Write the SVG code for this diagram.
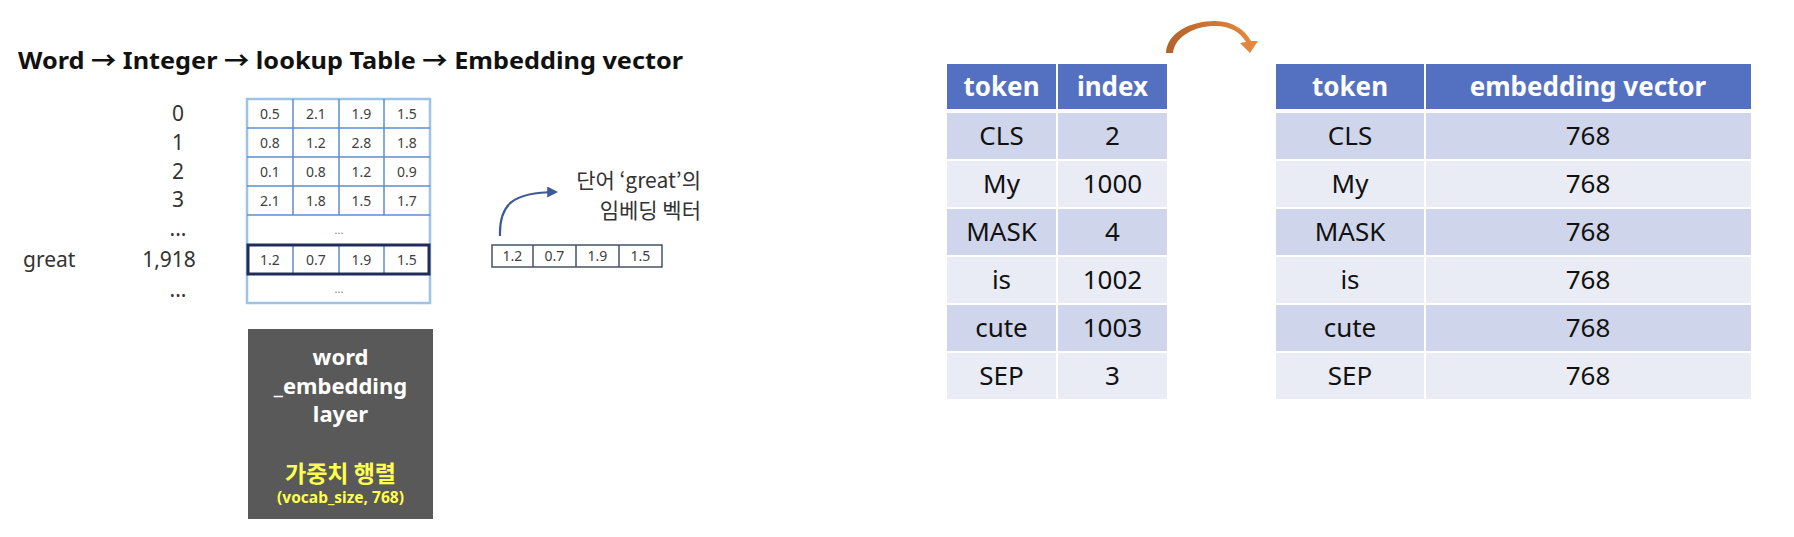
<svg xmlns="http://www.w3.org/2000/svg" width="1794" height="537" viewBox="0 0 1794 537">
<style>
  .t { font-family: "Noto Sans", "Open Sans", "Noto Sans CJK KR", sans-serif; }
  .kr { font-family: "Noto Sans CJK KR", "Noto Sans", sans-serif; }
  .cell { font-size: 14px; fill: #404040; text-anchor: middle; }
  .idx { font-size: 21px; fill: #333; text-anchor: middle; }
  .hdr { fill: #5470C1; }
  .b1 { fill: #CFD5EA; }
  .b2 { fill: #E9EBF5; }
  .ht { font-size: 26px; font-weight: bold; fill: #fff; text-anchor: middle; }
  .bt { font-size: 26px; fill: #111; text-anchor: middle; }
  .grid { stroke: #5B8FD0; stroke-width: 1.5; fill: none; }
  .wl { font-size: 22px; font-weight: bold; fill: #fff; text-anchor: middle; }
  .yl { font-weight: bold; fill: #FFFF4D; text-anchor: middle; }
</style>
<defs>
  <marker id="ah" viewBox="0 0 10 10" refX="8" refY="5" markerWidth="5" markerHeight="5" orient="auto">
    <path d="M0,0 L10,5 L0,10 Z" fill="#3E5A96"/>
  </marker>
  <linearGradient id="og" x1="0" y1="0" x2="1" y2="0">
    <stop offset="0" stop-color="#B0622C"/>
    <stop offset="1" stop-color="#E98B3F"/>
  </linearGradient>
</defs>
<rect width="1794" height="537" fill="#fff"/>

<g id="title">
  <text class="t" x="18" y="69" font-size="24" font-weight="bold" fill="#111" textLength="665" lengthAdjust="spacingAndGlyphs">Word → Integer → lookup Table → Embedding vector</text>
</g>

<g id="indices" class="t">
  <text class="idx" x="178" y="121">0</text>
  <text class="idx" x="178" y="150">1</text>
  <text class="idx" x="178" y="179">2</text>
  <text class="idx" x="178" y="207">3</text>
  <text class="idx" x="178" y="236" font-size="12" fill="#777">...</text>
  <text x="23" y="267" font-size="21" fill="#333">great</text>
  <text class="idx" x="169" y="267">1,918</text>
  <text class="idx" x="178" y="297" font-size="12" fill="#777">...</text>
</g>

<g id="lookup-table" class="t">
  <rect x="247" y="99" width="183" height="204" fill="#fff" stroke="#9DC3E6" stroke-width="2.5"/>
  <g class="grid">
    <path d="M247,128H430M247,157H430M247,186H430M247,215H430M247,245H430M247,274H430"/>
    <path d="M293,99V215M339,99V215M384,99V215M293,245V274M339,245V274M384,245V274"/>
  </g>
  <g class="cell">
    <text x="270" y="119">0.5</text><text x="316" y="119">2.1</text><text x="361.5" y="119">1.9</text><text x="407" y="119">1.5</text>
    <text x="270" y="148">0.8</text><text x="316" y="148">1.2</text><text x="361.5" y="148">2.8</text><text x="407" y="148">1.8</text>
    <text x="270" y="177">0.1</text><text x="316" y="177">0.8</text><text x="361.5" y="177">1.2</text><text x="407" y="177">0.9</text>
    <text x="270" y="206">2.1</text><text x="316" y="206">1.8</text><text x="361.5" y="206">1.5</text><text x="407" y="206">1.7</text>
    <text x="339" y="234" font-size="11" fill="#777">...</text>
    <text x="270" y="265">1.2</text><text x="316" y="265">0.7</text><text x="361.5" y="265">1.9</text><text x="407" y="265">1.5</text>
    <text x="339" y="293" font-size="11" fill="#777">...</text>
  </g>
  <rect x="248" y="245" width="181" height="29" fill="none" stroke="#1F2D5A" stroke-width="3"/>
</g>

<g id="great-vector" class="t">
  <rect x="492" y="245" width="170" height="22" fill="#fff" stroke="#44546A" stroke-width="1.5"/>
  <path d="M533,245V267M576,245V267M619,245V267" stroke="#44546A" stroke-width="1.5"/>
  <g class="cell">
    <text x="512.5" y="261">1.2</text><text x="554.5" y="261">0.7</text><text x="597.5" y="261">1.9</text><text x="640.5" y="261">1.5</text>
  </g>
</g>

<g id="great-label" class="kr">
  <text x="701" y="188" font-size="21" fill="#333" text-anchor="end">단어 ‘great’의</text>
  <text x="701" y="218" font-size="21" fill="#333" text-anchor="end">임베딩 벡터</text>
</g>

<g id="embedding-layer" class="kr">
  <rect x="248" y="329" width="185" height="190" fill="#595959"/>
  <text class="wl t" x="340.5" y="365">word</text>
  <text class="wl t" x="340.5" y="394">_embedding</text>
  <text class="wl t" x="340.5" y="422">layer</text>
  <text class="yl" x="340.5" y="482" font-size="23">가중치 행렬</text>
  <text class="yl t" x="340.5" y="503" font-size="15.5">(vocab_size, 768)</text>
</g>

<g id="index-table" class="t">
  <rect class="hdr" x="947" y="64" width="109" height="45"/>
  <rect class="hdr" x="1058" y="64" width="109" height="45"/>
  <text class="ht" x="1001.5" y="96">token</text>
  <text class="ht" x="1112.5" y="96">index</text>
  <rect class="b1" x="947" y="113" width="109" height="46"/><rect class="b1" x="1058" y="113" width="109" height="46"/>
  <rect class="b2" x="947" y="161" width="109" height="46"/><rect class="b2" x="1058" y="161" width="109" height="46"/>
  <rect class="b1" x="947" y="209" width="109" height="46"/><rect class="b1" x="1058" y="209" width="109" height="46"/>
  <rect class="b2" x="947" y="257" width="109" height="46"/><rect class="b2" x="1058" y="257" width="109" height="46"/>
  <rect class="b1" x="947" y="305" width="109" height="46"/><rect class="b1" x="1058" y="305" width="109" height="46"/>
  <rect class="b2" x="947" y="353" width="109" height="46"/><rect class="b2" x="1058" y="353" width="109" height="46"/>
  <text class="bt" x="1001.5" y="145">CLS</text><text class="bt" x="1112.5" y="145">2</text>
  <text class="bt" x="1001.5" y="193">My</text><text class="bt" x="1112.5" y="193">1000</text>
  <text class="bt" x="1001.5" y="241">MASK</text><text class="bt" x="1112.5" y="241">4</text>
  <text class="bt" x="1001.5" y="289">is</text><text class="bt" x="1112.5" y="289">1002</text>
  <text class="bt" x="1001.5" y="337">cute</text><text class="bt" x="1112.5" y="337">1003</text>
  <text class="bt" x="1001.5" y="385">SEP</text><text class="bt" x="1112.5" y="385">3</text>
</g>

<g id="connectors">
  <path d="M500,236 C499,205 512,192 556,192" fill="none" stroke="#3E5A96" stroke-width="2.2" marker-end="url(#ah)"/>
  <path d="M1166,53 C1167,33 1190,21 1215,21 C1233,21 1245,30 1251,41 L1258,41 L1250,53 L1240,43 L1246,42 C1240,32 1230,26 1215,26 C1195,26 1175,36 1173,53 Z" fill="url(#og)"/>
</g>

<g id="embedding-table" class="t">
  <rect class="hdr" x="1276" y="64" width="148" height="45"/>
  <rect class="hdr" x="1426" y="64" width="325" height="45"/>
  <text class="ht" x="1350" y="96">token</text>
  <text class="ht" x="1588" y="96">embedding vector</text>
  <rect class="b1" x="1276" y="113" width="148" height="46"/><rect class="b1" x="1426" y="113" width="325" height="46"/>
  <rect class="b2" x="1276" y="161" width="148" height="46"/><rect class="b2" x="1426" y="161" width="325" height="46"/>
  <rect class="b1" x="1276" y="209" width="148" height="46"/><rect class="b1" x="1426" y="209" width="325" height="46"/>
  <rect class="b2" x="1276" y="257" width="148" height="46"/><rect class="b2" x="1426" y="257" width="325" height="46"/>
  <rect class="b1" x="1276" y="305" width="148" height="46"/><rect class="b1" x="1426" y="305" width="325" height="46"/>
  <rect class="b2" x="1276" y="353" width="148" height="46"/><rect class="b2" x="1426" y="353" width="325" height="46"/>
  <text class="bt" x="1350" y="145">CLS</text><text class="bt" x="1588" y="145">768</text>
  <text class="bt" x="1350" y="193">My</text><text class="bt" x="1588" y="193">768</text>
  <text class="bt" x="1350" y="241">MASK</text><text class="bt" x="1588" y="241">768</text>
  <text class="bt" x="1350" y="289">is</text><text class="bt" x="1588" y="289">768</text>
  <text class="bt" x="1350" y="337">cute</text><text class="bt" x="1588" y="337">768</text>
  <text class="bt" x="1350" y="385">SEP</text><text class="bt" x="1588" y="385">768</text>
</g>
</svg>
